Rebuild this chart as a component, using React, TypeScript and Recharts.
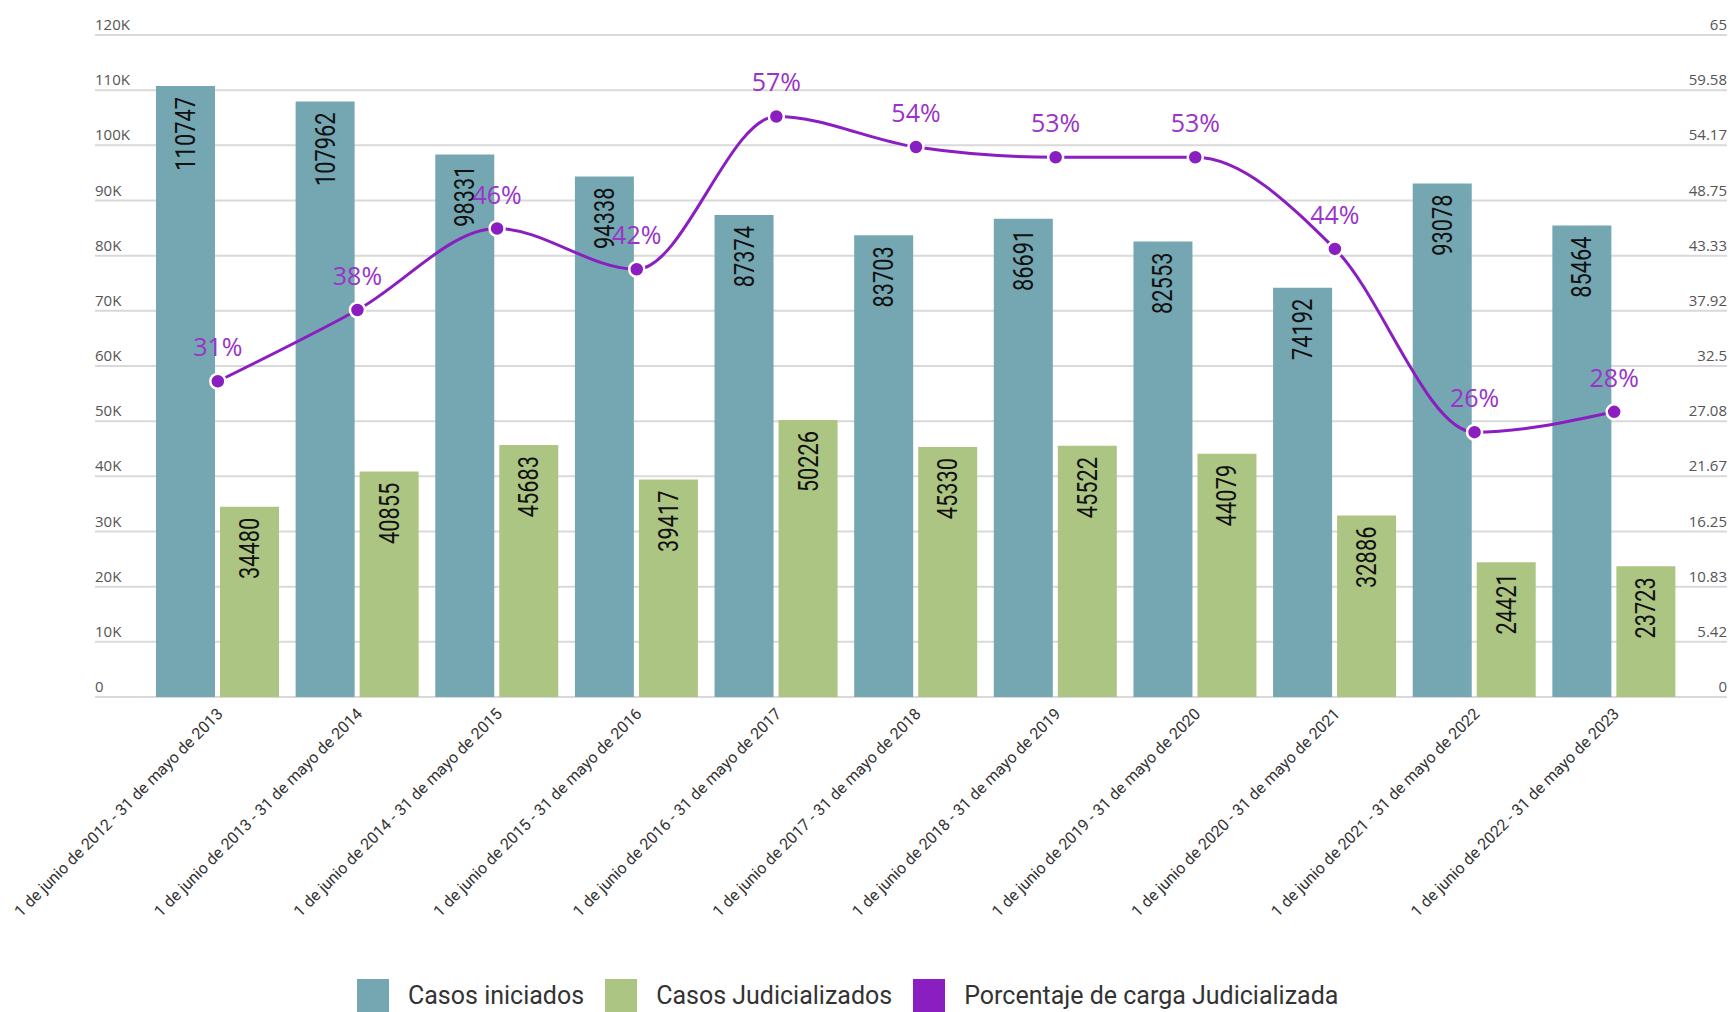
import React from 'react';
import { ComposedChart, Bar, Line, XAxis, YAxis, CartesianGrid, LabelList } from 'recharts';

const categories = [
  '1 de junio de 2012 - 31 de mayo de 2013',
  '1 de junio de 2013 - 31 de mayo de 2014',
  '1 de junio de 2014 - 31 de mayo de 2015',
  '1 de junio de 2015 - 31 de mayo de 2016',
  '1 de junio de 2016 - 31 de mayo de 2017',
  '1 de junio de 2017 - 31 de mayo de 2018',
  '1 de junio de 2018 - 31 de mayo de 2019',
  '1 de junio de 2019 - 31 de mayo de 2020',
  '1 de junio de 2020 - 31 de mayo de 2021',
  '1 de junio de 2021 - 31 de mayo de 2022',
  '1 de junio de 2022 - 31 de mayo de 2023',
];
const casosIniciados = [110747, 107962, 98331, 94338, 87374, 83703, 86691, 82553, 74192, 93078, 85464];
const casosJudicializados = [34480, 40855, 45683, 39417, 50226, 45330, 45522, 44079, 32886, 24421, 23723];
const porcentajeCarga = [31, 38, 46, 42, 57, 54, 53, 53, 44, 26, 28];

const leftTicks = [0, 10000, 20000, 30000, 40000, 50000, 60000, 70000, 80000, 90000, 100000, 110000, 120000];
const rightTicks = [0, 5.42, 10.83, 16.25, 21.67, 27.08, 32.5, 37.92, 43.33, 48.75, 54.17, 59.58, 65];

const series = [
  { key: 'iniciados', name: 'Casos iniciados', color: '#75a7b2' },
  { key: 'judicializados', name: 'Casos Judicializados', color: '#adc582' },
  { key: 'porcentaje', name: 'Porcentaje de carga Judicializada', color: '#8a1ec0' },
];

const data = categories.map((periodo, i) => ({
  periodo,
  iniciados: casosIniciados[i],
  judicializados: casosJudicializados[i],
  porcentaje: porcentajeCarga[i],
}));

const SANS = "'Open Sans', 'Noto Sans', sans-serif";
const COND = "Roboto, 'Noto Sans', sans-serif";

const fmtK = (v: number) => (v === 0 ? '0' : `${v / 1000}K`);

// axis labels sit just above their gridline
const LeftTick = ({ x, y, payload }: any) => (
  <text x={x} y={y - 5} textAnchor="start" fontSize={15} fill="#555" fontFamily={SANS}>
    {fmtK(payload.value)}
  </text>
);

const RightTick = ({ x, y, payload }: any) => (
  <text x={x} y={y - 5} textAnchor="end" fontSize={15} fill="#555" fontFamily={SANS}>
    {payload.value}
  </text>
);

const PeriodTick = ({ x, y, payload }: any) => (
  <g transform={`translate(${x + 2},${y + 14}) rotate(-45)`}>
    <text x={0} y={0} dy="0.35em" textAnchor="end" fontSize={16} fill="#333" fontFamily={COND}>
      {payload.value}
    </text>
  </g>
);

const BarValueLabel = ({ x, y, width, value }: any) => {
  const cx = x + width / 2;
  const top = y + 11;
  return (
    <g transform={`translate(${cx},${top}) rotate(-90) scale(0.78,1)`}>
      <text x={0} y={0} textAnchor="end" dominantBaseline="central" fontSize={28} fill="#111" fontFamily={COND}>
        {value}
      </text>
    </g>
  );
};

const PctLabel = ({ x, y, value }: any) => (
  <text x={x} y={y - 25} textAnchor="middle" fontSize={25} fill="#9a33c8" fontFamily={SANS}>
    {value}%
  </text>
);

export default function App() {
  return (
    <div style={{ position: 'absolute', left: 0, top: 0, width: 1730, height: 1012, overflow: 'hidden', background: '#fff' }}>
      <ComposedChart width={1730} height={1012} data={data} margin={{ top: 35, right: 2, bottom: 0, left: 94 }} barSize={59} barGap={5}>
        <CartesianGrid yAxisId="left" vertical={false} stroke="#d9d9d9" strokeWidth={2} />
        <XAxis
          dataKey="periodo"
          axisLine={false}
          tickLine={false}
          tickSize={0}
          tickMargin={0}
          interval={0}
          height={315}
          padding={{ left: 53, right: 43 }}
          tick={<PeriodTick />}
        />
        <YAxis
          yAxisId="left"
          width={1}
          domain={[0, 120000]}
          ticks={leftTicks}
          interval={0}
          axisLine={false}
          tickLine={false}
          tickSize={0}
          tickMargin={0}
          tick={<LeftTick />}
        />
        <YAxis
          yAxisId="right"
          orientation="right"
          width={1}
          domain={[0, 65]}
          ticks={rightTicks}
          interval={0}
          axisLine={false}
          tickLine={false}
          tickSize={0}
          tickMargin={0}
          tick={<RightTick />}
        />
        <Bar yAxisId="left" dataKey="iniciados" name={series[0].name} fill={series[0].color} isAnimationActive={false}>
          <LabelList dataKey="iniciados" content={<BarValueLabel />} />
        </Bar>
        <Bar yAxisId="left" dataKey="judicializados" name={series[1].name} fill={series[1].color} isAnimationActive={false}>
          <LabelList dataKey="judicializados" content={<BarValueLabel />} />
        </Bar>
        <Line
          yAxisId="right"
          type="monotone"
          dataKey="porcentaje"
          name={series[2].name}
          stroke={series[2].color}
          strokeWidth={3}
          dot={{ r: 7.5, fill: series[2].color, stroke: '#fff', strokeWidth: 2.5 }}
          isAnimationActive={false}
        >
          <LabelList dataKey="porcentaje" content={<PctLabel />} />
        </Line>
      </ComposedChart>
      <div style={{ position: 'absolute', left: 357, top: 979, display: 'flex', alignItems: 'flex-start' }}>
        {series.map((s) => (
          <div key={s.key} style={{ display: 'flex', alignItems: 'flex-start', marginRight: 21 }}>
            <div style={{ width: 32, height: 33, background: s.color, marginRight: 19 }} />
            <span style={{ fontFamily: COND, fontSize: 25, lineHeight: '34px', color: '#333' }}>{s.name}</span>
          </div>
        ))}
      </div>
    </div>
  );
}
